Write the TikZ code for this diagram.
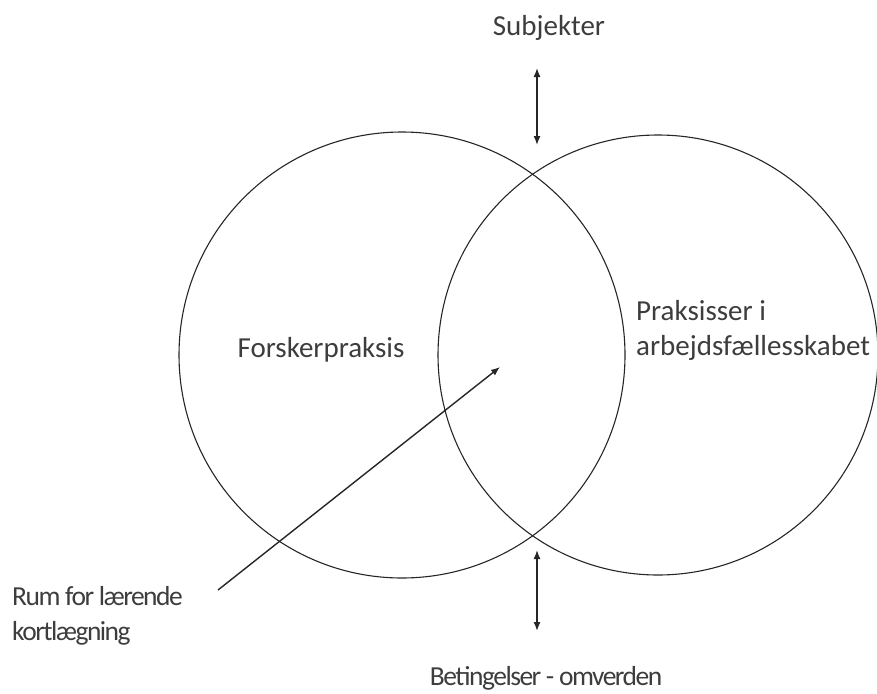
\documentclass[tikz,border=0pt]{standalone}
\usepackage{fontspec}
\setmainfont{Carlito}
\usetikzlibrary{arrows.meta}
\begin{document}
\begin{tikzpicture}[x=1pt,y=-1pt,
  lbl/.style={inner sep=0pt,font=\fontsize{29}{35}\selectfont,text=black!76},
  lbls/.style={inner sep=0pt,font=\fontsize{27.5}{35}\selectfont\addfontfeature{LetterSpace=-5.5},text=black!76},
  ring/.style={draw=black!85,line width=1.1pt},
  conn/.style={draw=black!85,line width=1.4pt,-{Latex[length=9pt,width=7pt]}},
  dconn/.style={draw=black!85,line width=1.4pt,{Latex[length=9pt,width=7pt]}-{Latex[length=9pt,width=7pt]}}]
\useasboundingbox (0,0) rectangle (877,693);
\node[ring,circle,minimum size=446pt,inner sep=0pt] (L) at (402,355) {};
\node[ring,circle,minimum size=440pt,inner sep=0pt] (R) at (658,355) {};
\node[lbl] (sub) at (549,28) {Subjekter};
\node[lbls] (bet) at (546,678) {Betingelser - omverden};
\node[lbl] (fp) at (321,350) {Forskerpraksis};
\node[lbl,anchor=west,align=left] (pa) at (636,330) {Praksisser i\\arbejdsfællesskabet};
\node[lbls,anchor=west,align=left] (rum) at (12,616) {Rum for lærende\\kortlægning};
\coordinate (st) at (537,68);
\coordinate (sb) at (537,145);
\coordinate (bt) at (537,550);
\coordinate (bb) at (537,631);
\coordinate (rs) at (218,590);
\coordinate (re) at (500,367);
\draw[dconn] (st) -- (sb);
\draw[dconn] (bt) -- (bb);
\draw[conn] (rs) -- (re);
\end{tikzpicture}
\end{document}
